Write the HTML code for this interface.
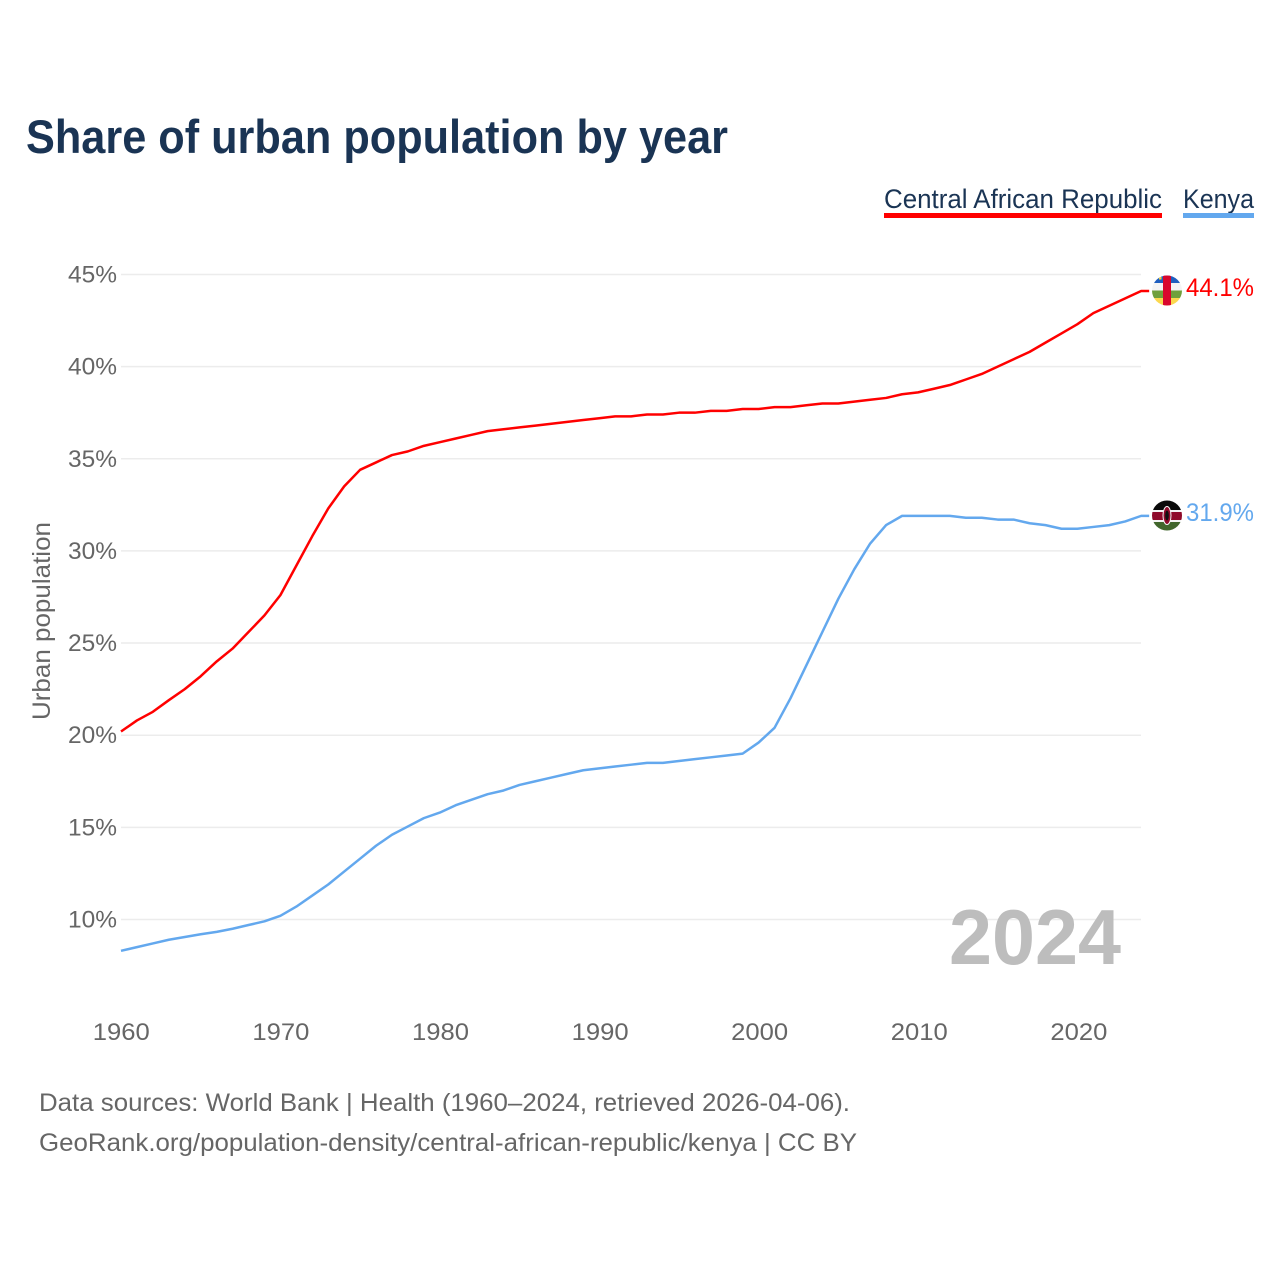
<!DOCTYPE html>
<html lang="en">
<head>
<meta charset="utf-8">
<title>Share of urban population by year</title>
<style>
html,body{margin:0;padding:0;background:#fff;}
svg{display:block;font-family:"Liberation Sans",sans-serif;}
</style>
</head>
<body>
<svg id="chart" xmlns="http://www.w3.org/2000/svg" width="1280" height="1280" viewBox="0 0 1280 1280">
  <defs>
    <clipPath id="clip-car"><circle cx="1167" cy="290.5" r="15"/></clipPath>
    <clipPath id="clip-ken"><circle cx="1167" cy="515.5" r="15"/></clipPath>
  </defs>
  <rect x="0" y="0" width="1280" height="1280" fill="#fff"/>
  <text x="26" y="153" font-size="47" font-weight="700" fill="#1a3454" textLength="702" lengthAdjust="spacingAndGlyphs">Share of urban population by year</text>

  <g>
    <text x="884" y="208" font-size="27" fill="#1a3454" textLength="278" lengthAdjust="spacingAndGlyphs">Central African Republic</text>
    <rect x="884" y="213" width="278" height="5" fill="#ff0000"/>
  </g>
  <g>
    <text x="1183" y="208" font-size="27" fill="#1a3454" textLength="71" lengthAdjust="spacingAndGlyphs">Kenya</text>
    <rect x="1183" y="213" width="71" height="5" fill="#63a8ee"/>
  </g>

  <g id="grid"></g>
  <g id="yticks"></g>
  <g id="xticks"></g>

  <text transform="translate(50,621) rotate(-90)" text-anchor="middle" font-size="25" fill="#666" textLength="198" lengthAdjust="spacingAndGlyphs">Urban population</text>

  <text x="949" y="964" font-size="78" font-weight="700" fill="#bdbdbd" textLength="172" lengthAdjust="spacingAndGlyphs">2024</text>

  <polyline id="line-car" fill="none" stroke="#ff0000" stroke-width="2.5" stroke-linejoin="round"/>
  <polyline id="line-ken" fill="none" stroke="#63a8ee" stroke-width="2.5" stroke-linejoin="round"/>

  <g clip-path="url(#clip-car)">
    <rect x="1152" y="275" width="30" height="8" fill="#1f5fbf"/>
    <rect x="1152" y="283" width="30" height="7.5" fill="#f4f4f4"/>
    <rect x="1152" y="290.5" width="30" height="7.5" fill="#6fa03c"/>
    <rect x="1152" y="298" width="30" height="8" fill="#fbd84f"/>
    <rect x="1159" y="277" width="2.5" height="2.5" fill="#f5d33f"/>
    <rect x="1163" y="275" width="8" height="31" fill="#d9062d"/>
  </g>
  <g clip-path="url(#clip-ken)">
    <rect x="1152" y="500" width="30" height="10" fill="#0a0a0a"/>
    <rect x="1152" y="510" width="30" height="2" fill="#f4f4f4"/>
    <rect x="1152" y="512" width="30" height="8" fill="#8f0a2a"/>
    <rect x="1152" y="520" width="30" height="2" fill="#f4f4f4"/>
    <rect x="1152" y="522" width="30" height="9" fill="#41662c"/>
    <ellipse cx="1167" cy="515.5" rx="4" ry="9" fill="#8f0a2a" stroke="#f4f4f4" stroke-width="1"/>
    <ellipse cx="1167" cy="515.5" rx="1.8" ry="5" fill="#111"/>
  </g>

  <text id="end-car" x="1186" y="296" font-size="25" fill="#ff0000" textLength="68" lengthAdjust="spacingAndGlyphs"></text>
  <text id="end-ken" x="1186" y="521" font-size="25" fill="#63a8ee" textLength="68" lengthAdjust="spacingAndGlyphs"></text>

  <text x="39" y="1111" font-size="25" fill="#666" textLength="811" lengthAdjust="spacingAndGlyphs">Data sources: World Bank | Health (1960–2024, retrieved 2026-04-06).</text>
  <text x="39" y="1151" font-size="25" fill="#666" textLength="818" lengthAdjust="spacingAndGlyphs">GeoRank.org/population-density/central-african-republic/kenya | CC BY</text>
</svg>
<script>
var startYear = 1960;
var carValues = [20.2,20.8,21.27,21.9,22.5,23.2,24.0,24.7,25.6,26.5,27.6,29.2,30.8,32.3,33.5,34.4,34.8,35.2,35.4,35.7,35.9,36.1,36.3,36.5,36.6,36.7,36.8,36.9,37.0,37.1,37.2,37.3,37.3,37.4,37.4,37.5,37.5,37.6,37.6,37.7,37.7,37.8,37.8,37.9,38.0,38.0,38.1,38.2,38.3,38.5,38.6,38.8,39.0,39.3,39.6,40.0,40.4,40.8,41.3,41.8,42.3,42.9,43.3,43.7,44.1];
var kenyaValues = [8.3,8.5,8.7,8.9,9.05,9.2,9.33,9.5,9.7,9.9,10.2,10.7,11.3,11.9,12.6,13.3,14.0,14.6,15.05,15.5,15.8,16.2,16.5,16.8,17.0,17.3,17.5,17.7,17.9,18.1,18.2,18.3,18.4,18.5,18.5,18.6,18.7,18.8,18.9,19.0,19.6,20.4,22.0,23.8,25.6,27.4,29.0,30.4,31.4,31.9,31.9,31.9,31.9,31.8,31.8,31.7,31.7,31.5,31.4,31.2,31.2,31.3,31.4,31.6,31.9];
var yTickValues = [10,15,20,25,30,35,40,45];
var xTickValues = [1960,1970,1980,1990,2000,2010,2020];

var NS = 'http://www.w3.org/2000/svg';
function xScale(year){ return 121 + (year - 1960) * 15.94; }
function xLabelScale(year){ return 121.3 + (year - 1960) * 15.96; }
function yScale(v){ return 919.5 - (v - 10) * 18.43; }
function mk(tag, attrs, parent, txt){
  var el = document.createElementNS(NS, tag);
  for (var k in attrs) el.setAttribute(k, attrs[k]);
  if (txt !== undefined) el.textContent = txt;
  parent.appendChild(el);
  return el;
}
var gridG = document.getElementById('grid');
var yG = document.getElementById('yticks');
var xG = document.getElementById('xticks');
yTickValues.forEach(function(v){
  var y = yScale(v);
  var ln = mk('line', {x1:121, x2:1141, y1:y, y2:y, stroke:'#ececec', 'stroke-width':1.5}, gridG);
  
  
  var t = mk('text', {x:117, y:y+8, 'text-anchor':'end', 'font-size':24.5, fill:'#666', textLength:49, lengthAdjust:'spacingAndGlyphs'}, yG, v + '%');
  
  
});
xTickValues.forEach(function(yr){
  var t = mk('text', {x:xLabelScale(yr), y:1040, 'text-anchor':'middle', 'font-size':24.5, fill:'#666', textLength:57, lengthAdjust:'spacingAndGlyphs'}, xG, String(yr));
  
  
});
function pts(values){
  var out = values.map(function(v, i){ return xScale(startYear + i).toFixed(2) + ',' + yScale(v).toFixed(2); });
  var last = values[values.length - 1];
  out.push((xScale(startYear + values.length - 1) + 8).toFixed(2) + ',' + yScale(last).toFixed(2));
  return out.join(' ');
}
document.getElementById('line-car').setAttribute('points', pts(carValues));
document.getElementById('line-ken').setAttribute('points', pts(kenyaValues));
document.getElementById('end-car').textContent = carValues[carValues.length - 1].toFixed(1) + '%';
document.getElementById('end-ken').textContent = kenyaValues[kenyaValues.length - 1].toFixed(1) + '%';
</script>
</body>
</html>
